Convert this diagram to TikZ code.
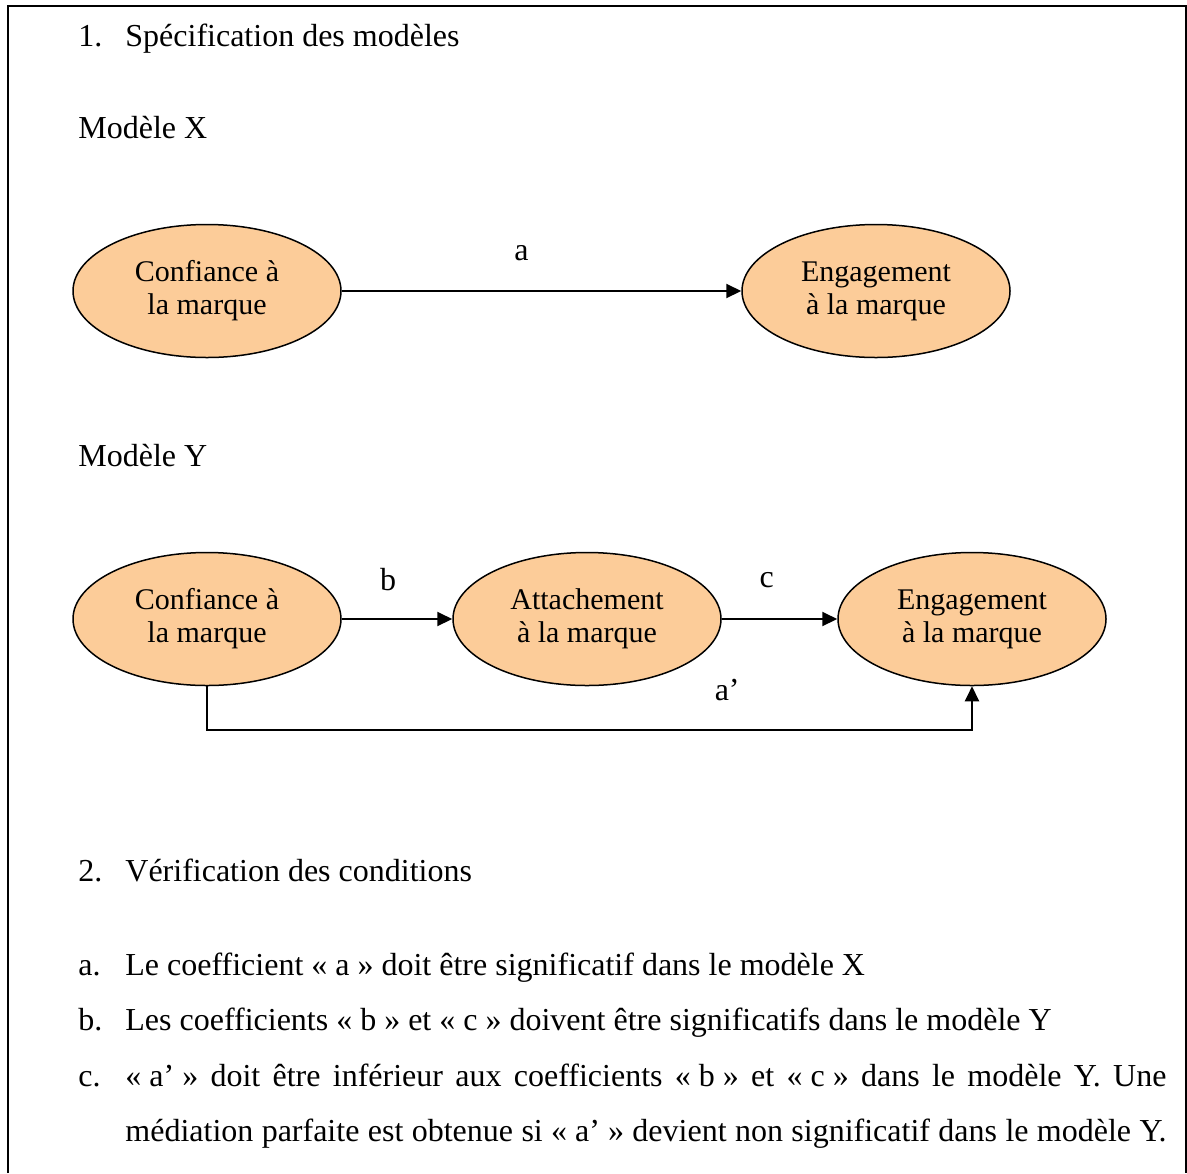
\documentclass[tikz,border=0pt]{standalone}
\usepackage{fontspec}
\setmainfont{Liberation Serif}
\usetikzlibrary{arrows.meta,shapes.geometric}
\definecolor{peach}{RGB}{252,204,153}
\newcommand\fsp{\kern0.25em}
\begin{document}
\begin{tikzpicture}[x=0.5pt,y=-0.5pt,
  every node/.style={font=\fontsize{16pt}{17pt}\selectfont},
  txt/.style={anchor=base west,inner sep=0pt},
  ell/.style={ellipse,draw=black,line width=0.75pt,fill=peach,minimum width=134pt,minimum height=66.5pt,inner sep=0pt,align=center,font=\fontsize{15pt}{16.5pt}\selectfont},
  arr/.style={line width=1pt,-{Triangle[length=7.5pt,width=7pt]}},
  lbl/.style={inner sep=0pt}]
\useasboundingbox (0,0) rectangle (1187,1173);
\draw[line width=1pt] (8,1173) -- (8,6) -- (1186,6) -- (1186,1173);
% headings
\node[txt] (n1) at (78,46.7) {1.};
\node[txt] (t1) at (125,46.7) {Spécification des modèles};
\node[txt] (mx) at (78,138) {Modèle X};
\node[txt] (my) at (78,466.7) {Modèle Y};
% model X
\node[ell] (x1) at (207,291) {Confiance à\\la marque};
\node[ell] (x2) at (876,291) {Engagement\\à la marque};
\draw[arr] (x1) -- node[lbl,pos=0.45,yshift=19pt]{a} (x2);
% model Y
\node[ell] (y1) at (207,619) {Confiance à\\la marque};
\node[ell] (y2) at (587,619) {Attachement\\à la marque};
\node[ell] (y3) at (972,619) {Engagement\\à la marque};
\draw[arr] (y1) -- node[lbl,pos=0.42,yshift=19.5pt]{b} (y2);
\draw[arr] (y2) -- node[lbl,pos=0.39,yshift=19.5pt]{c} (y3);
\draw[arr] (y1.south) -- ++(0,44) -| node[lbl,pos=0.34,yshift=20pt]{a’} (y3.south);
% conditions
\node[txt] (n2) at (78,881.7) {2.};
\node[txt] (t2) at (125,881.7) {Vérification des conditions};
\node[txt] (la) at (78,975) {a.};
\node[txt] (ta) at (125,975) {Le coefficient «\fsp a\fsp» doit être significatif dans le modèle X};
\node[txt] (lb) at (78,1030) {b.};
\node[txt] (tb) at (125,1030) {Les coefficients «\fsp b\fsp» et «\fsp c\fsp» doivent être significatifs dans le modèle Y};
\node[txt] (lc) at (78,1086) {c.};
\node[txt] (tc1) at (125,1086) {\makebox[520.5pt][s]{«\fsp a’\fsp» doit être inférieur aux coefficients «\fsp b\fsp» et «\fsp c\fsp» dans le modèle Y. Une}};
\node[txt] (tc2) at (125,1141) {\makebox[520.5pt][s]{médiation parfaite est obtenue si «\fsp a’\fsp» devient non significatif dans le modèle Y.}};
\end{tikzpicture}
\end{document}
